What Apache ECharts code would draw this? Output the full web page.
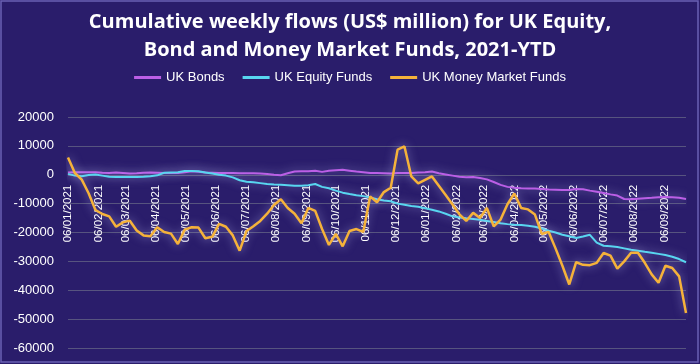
<!DOCTYPE html>
<html>
<head>
<meta charset="utf-8">
<script src="https://cdn.jsdelivr.net/npm/echarts@6/dist/echarts.min.js"></script>
<style>
html,body{margin:0;padding:0;background:#2a1d6b;}
#main{width:700px;height:364px;}
</style>
</head>
<body>
<div id="main"></div>
<script>
// Weekly observations start on this date (Wednesdays)
const firstWeek = '2021-01-06';
const lastDate = '2022-09-28';

// Month tick labels on the x axis
const tickDates = ['2021-01-06','2021-02-06','2021-03-06','2021-04-06','2021-05-06','2021-06-06',
  '2021-07-06','2021-08-06','2021-09-06','2021-10-06','2021-11-06','2021-12-06',
  '2022-01-06','2022-02-06','2022-03-06','2022-04-06','2022-05-06','2022-06-06',
  '2022-07-06','2022-08-06','2022-09-06'];

const seriesNames = ['UK Bonds', 'UK Equity Funds', 'UK Money Market Funds'];

const ukBonds = [800,900,900,900,900,700,600,800,600,400,500,700,800,700,600,600,600,900,1200,1000,
  800,700,600,600,600,500,500,500,400,300,0,-200,500,1100,1200,1200,1400,1000,1400,1600,
  1700,1400,1100,900,600,600,500,400,600,600,600,800,900,1100,500,100,-300,-700,-900,-800,
  -1100,-1600,-2500,-3500,-4200,-4500,-4700,-4800,-4800,-4900,-5100,-5200,-5300,-5300,-4900,-5000,
  -5500,-5900,-6300,-6800,-7200,-8400,-8500,-8300,-8100,-8000,-7800,-7700,-7800,-8000,-8400];

const ukEquity = [300,-300,-500,-100,100,-300,-700,-800,-800,-800,-800,-700,-500,-200,700,800,900,1300,1300,1200,
  800,400,0,-300,-900,-1900,-2400,-2600,-2900,-3200,-3400,-3500,-3600,-3800,-3800,-3600,-3200,-4200,-4700,-5500,
  -6200,-6700,-7100,-7400,-7900,-8500,-8900,-9200,-10000,-10400,-10800,-11100,-11600,-12100,-12700,-13500,-14400,-14800,-15100,-15300,
  -15600,-16000,-16400,-16800,-17100,-17300,-17400,-17700,-18000,-18600,-19400,-20000,-20800,-21300,-21900,-21400,
  -20800,-23500,-24600,-24800,-25000,-25500,-26000,-26300,-26700,-27000,-27400,-27800,-28400,-29200,-30300];

const ukMoneyMarket = [6000,600,-1700,-6400,-12200,-13600,-14400,-18000,-16500,-15900,-19300,-21000,-21300,-18200,-19800,-20400,-24000,-19000,-18200,-18300,
  -22000,-21500,-17000,-18000,-21000,-26300,-19500,-17800,-16000,-13500,-10500,-8500,-11500,-13500,-16800,-11500,-12500,-18800,-24300,-20500,
  -24800,-19500,-18800,-19800,-7500,-9500,-6000,-4500,8700,9800,-600,-3000,-1800,-600,-3800,-7000,-10300,-13700,-16000,-13200,
  -15000,-11500,-17900,-15500,-10200,-6500,-11500,-12000,-13800,-20500,-19800,-25500,-31500,-38000,-30300,-31200,
  -31300,-30500,-27100,-28000,-32500,-30000,-27000,-27000,-30500,-34500,-37400,-31500,-32300,-35200,-47900];

const yTicks = {min: -60000, max: 20000, interval: 10000};

const colors = ['#bb5fe6', '#58d6f0', '#f5b23a'];

function ts(s){ return new Date(s + 'T00:00:00Z').getTime(); }
const DAY = 86400000;
const start = ts(firstWeek);
function pair(arr){ return arr.map((v,i)=>[start + i*7*DAY, v]); }
function pad(n){ return (n<10?'0':'')+n; }
function fmt(v){ const d=new Date(v); return pad(d.getUTCDate())+'/'+pad(d.getUTCMonth()+1)+'/'+d.getUTCFullYear(); }

const gridTop = 117, gridBottom = 16, chartH = 364;
// distance (px) from grid bottom to the zero line, so the date labels hang from y = 0
const plotH = chartH - gridTop - gridBottom;
const zeroOffset = plotH * (0 - yTicks.min) / (yTicks.max - yTicks.min);

const chart = echarts.init(document.getElementById('main'), null, {renderer:'canvas'});
const glow = (c,w)=>({width:w, color:c, shadowBlur:10, shadowColor:'rgba(200,200,255,0.6)'});
const data = [ukBonds, ukEquity, ukMoneyMarket];
const widths = [2, 2, 2.5];

chart.setOption({
  backgroundColor:'#2a1d6b',
  animation:false,
  graphic:[{type:'rect', shape:{x:1,y:1,width:697,height:361}, style:{fill:'none', stroke:'#6a60b4', lineWidth:1.5}, silent:true, z:100}],
  title:{
    text:'Cumulative weekly flows (US$ million) for UK Equity,\nBond and Money Market Funds, 2021-YTD',
    left:'center', top:3,
    textStyle:{color:'#ffffff', fontSize:20, fontWeight:'bold', fontFamily:'Open Sans', lineHeight:28}
  },
  legend:{
    top:66, left:'center', icon:'rect', itemWidth:27, itemHeight:3, itemGap:18,
    textStyle:{color:'#ffffff', fontSize:13, fontFamily:'Liberation Sans'},
    data:seriesNames
  },
  grid:{left:68, right:14, top:gridTop, bottom:gridBottom, containLabel:false, outerBoundsMode:'none'},
  xAxis:{
    type:'value', min:start, max:ts(lastDate),
    offset:-zeroOffset,
    axisLine:{show:false, onZero:false}, axisTick:{show:false}, splitLine:{show:false},
    axisLabel:{
      customValues: tickDates.map(ts),
      rotate:90, margin:10, color:'#ffffff', fontSize:11.5, fontFamily:'Liberation Sans',
      formatter:(v)=>fmt(v)
    }
  },
  yAxis:{
    type:'value', min:yTicks.min, max:yTicks.max, interval:yTicks.interval,
    axisLine:{show:false}, axisTick:{show:false},
    splitLine:{lineStyle:{color:'#57547f', width:1}},
    axisLabel:{color:'#ffffff', fontSize:13, fontFamily:'Liberation Sans', margin:14, formatter:(v)=>String(v)}
  },
  series: seriesNames.map((n,k)=>({
    name:n, type:'line', data:pair(data[k]), showSymbol:false, symbol:'none',
    color:colors[k], lineStyle:glow(colors[k], widths[k]), z:2+k
  }))
});
</script>
</body>
</html>
